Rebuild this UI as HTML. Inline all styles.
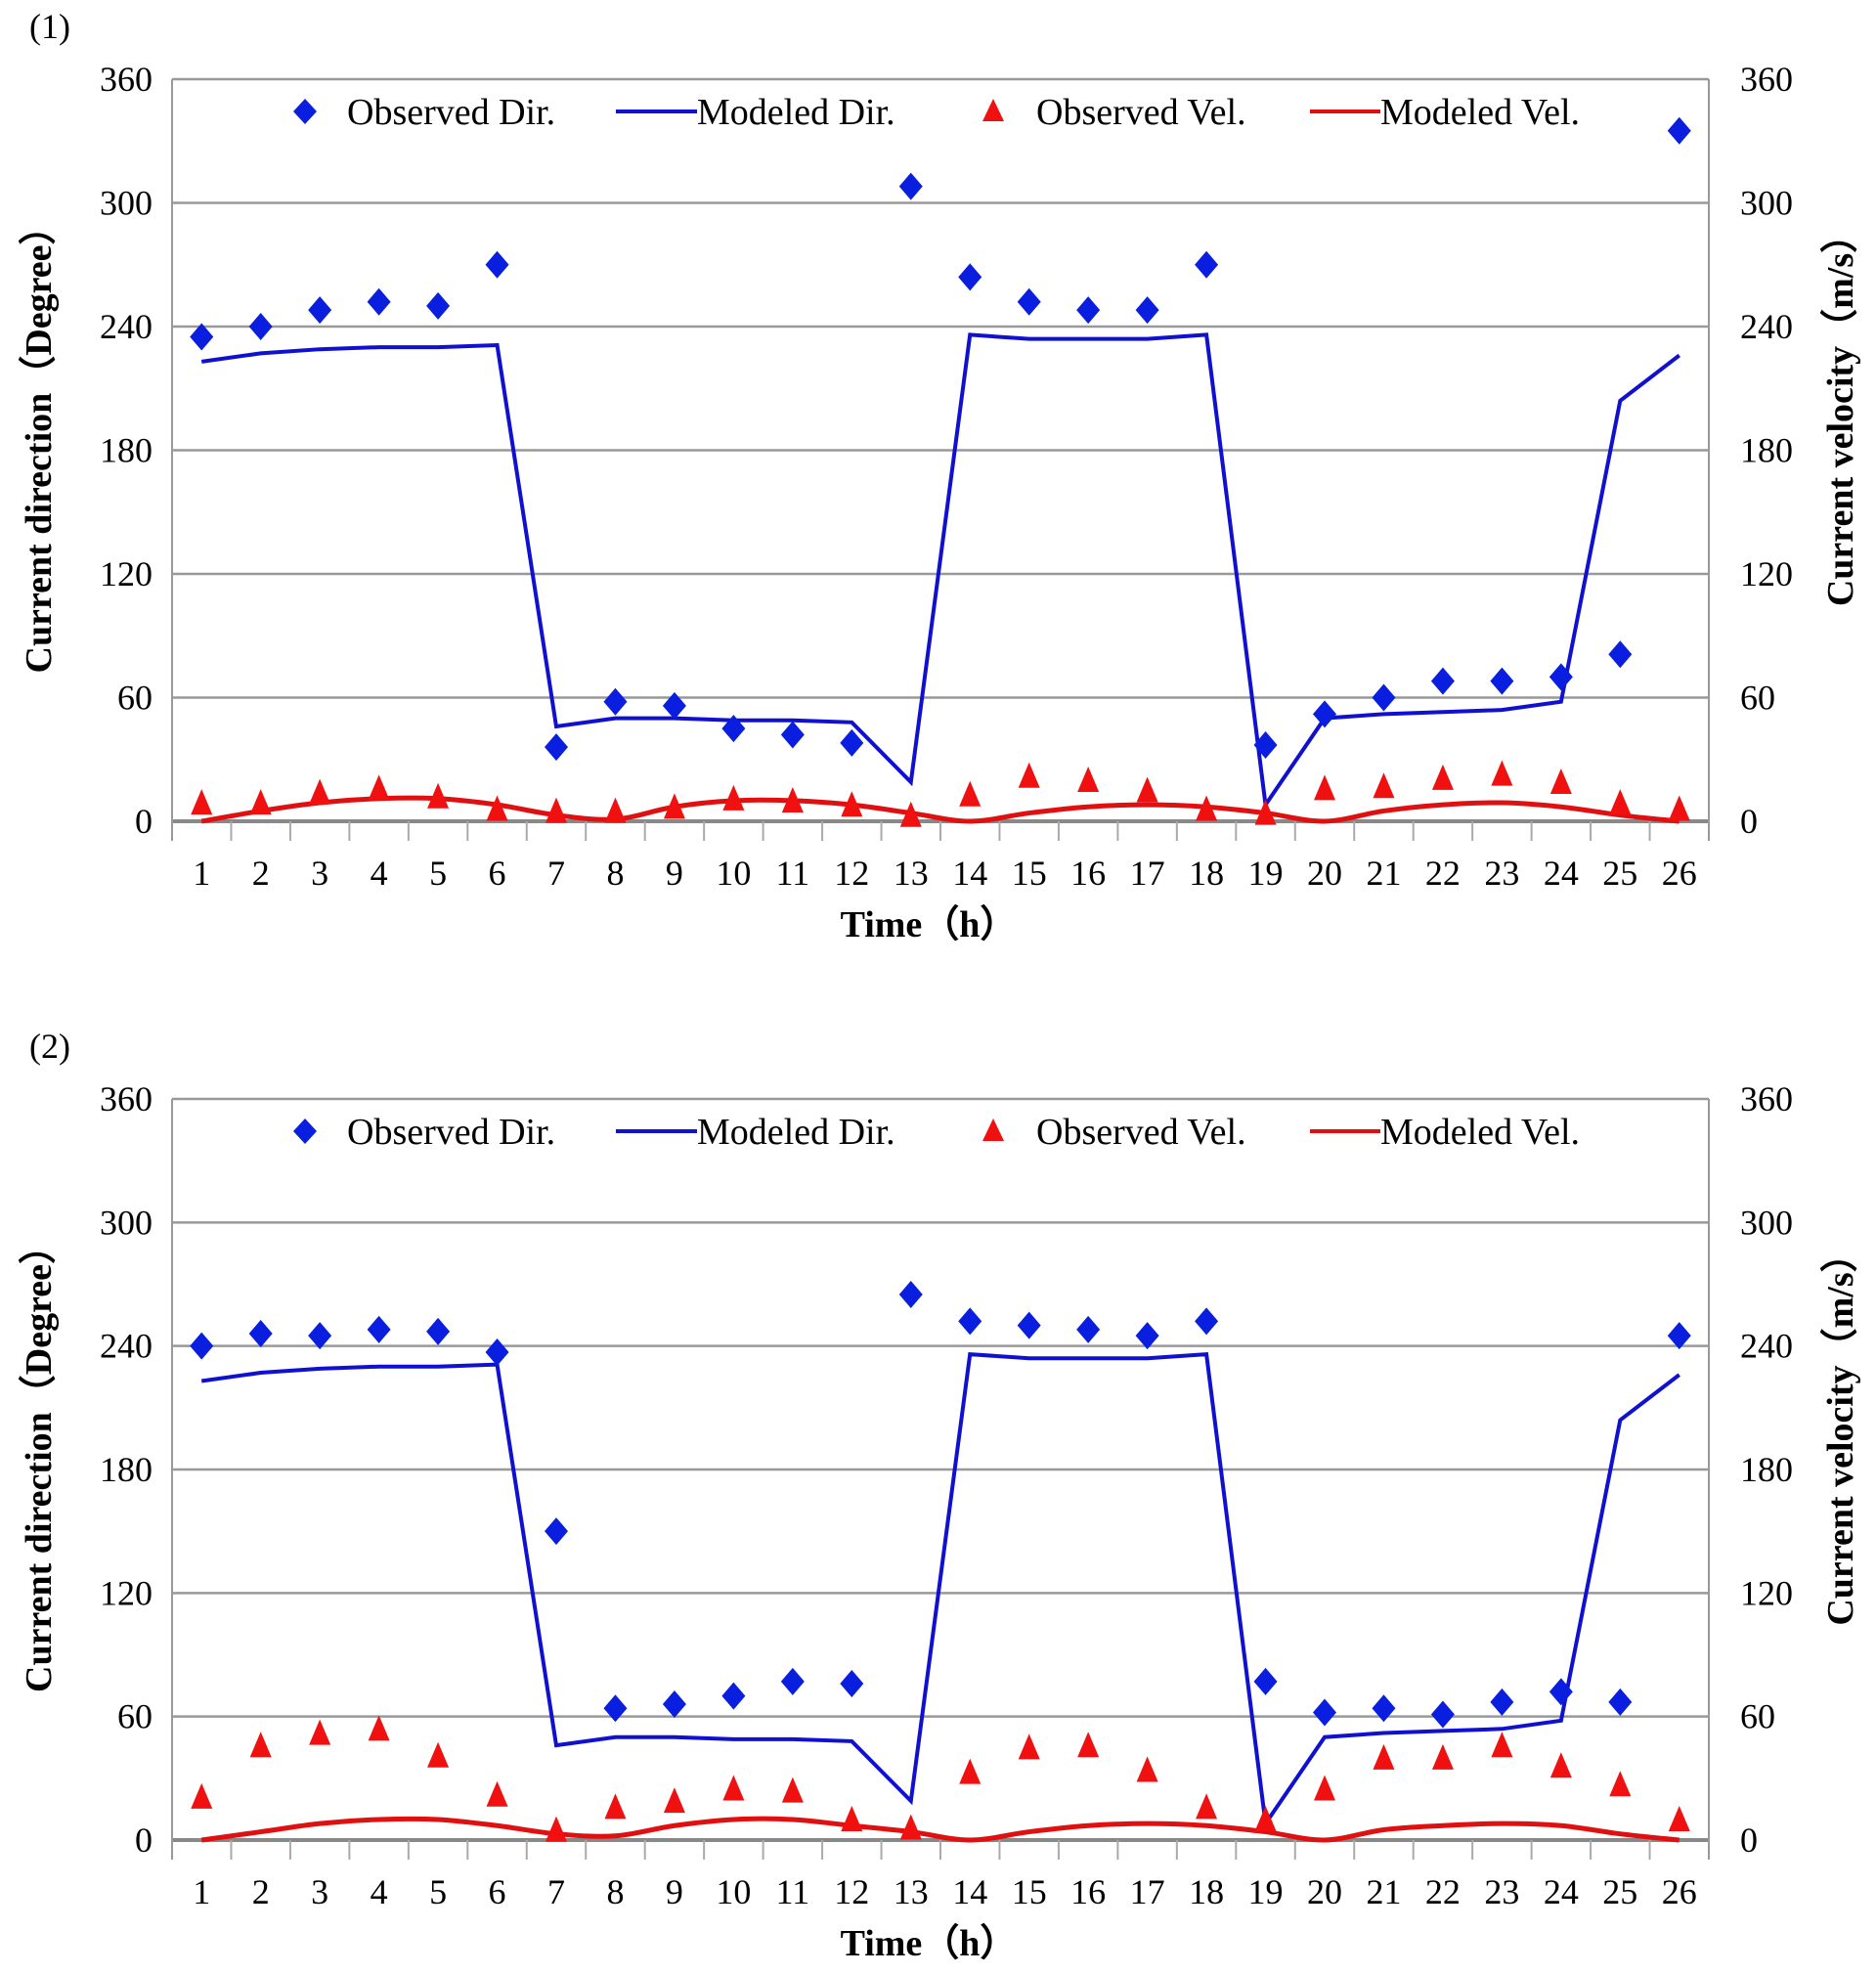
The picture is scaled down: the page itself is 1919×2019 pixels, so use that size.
<!DOCTYPE html>
<html><head><meta charset="utf-8"><style>
html,body{margin:0;padding:0;background:#fff;}
svg{display:block;font-family:"Liberation Serif",serif;}
</style></head><body>
<svg id="svg" width="1919" height="2019" viewBox="0 0 1919 2019" xmlns="http://www.w3.org/2000/svg"></svg>
<script>
const categories=[1,2,3,4,5,6,7,8,9,10,11,12,13,14,15,16,17,18,19,20,21,22,23,24,25,26];
const yTicks=[0,60,120,180,240,300,360];
const obsDir1=[235,240,248,252,250,270,36,58,56,45,42,38,308,264,252,248,248,270,37,52,60,68,68,70,81,335];
const modDir1=[223,227,229,230,230,231,46,50,50,49,49,48,19,236,234,234,234,236,8,50,52,53,54,58,204,226];
const obsVel1=[8,8,13,15,11,5,4,4,6,10,9,7,2,12,21,19,14,5,3,15,16,20,22,18,8,5];
const modVel1=[0,5,9,11,11,8,3,1,7,10,10,8,4,0,4,7,8,7,4,0,5,8,9,7,3,0];
const obsDir2=[240,246,245,248,247,237,150,64,66,70,77,76,265,252,250,248,245,252,77,62,64,61,67,72,67,245];
const modDir2=[223,227,229,230,230,231,46,50,50,49,49,48,19,236,234,234,234,236,8,50,52,53,54,58,204,226];
const obsVel2=[20,45,51,53,40,21,4,15,18,24,23,9,5,32,44,45,33,15,9,24,39,39,45,35,26,9];
const modVel2=[0,4,8,10,10,7,3,2,7,10,10,7,4,0,4,7,8,7,4,0,5,7,8,7,3,0];

const NS="http://www.w3.org/2000/svg";
const svg=document.getElementById('svg');
function mk(tag,attrs,parent){const e=document.createElementNS(NS,tag);for(const k in attrs)e.setAttribute(k,attrs[k]);(parent||svg).appendChild(e);return e;}
function smooth(pts){
  let d=`M${pts[0][0]},${pts[0][1]}`;
  for(let i=0;i<pts.length-1;i++){
    const p0=pts[i-1]||pts[i],p1=pts[i],p2=pts[i+1],p3=pts[i+2]||p2;
    const c1=[p1[0]+(p2[0]-p0[0])/6,p1[1]+(p2[1]-p0[1])/6];
    const c2=[p2[0]-(p3[0]-p1[0])/6,p2[1]-(p3[1]-p1[1])/6];
    d+=` C${c1[0]},${c1[1]} ${c2[0]},${c2[1]} ${p2[0]},${p2[1]}`;
  }
  return d;
}

function chart(g,top,bottom,od,md,ov,mv,label){
  const L=176,R=1748;
  const bw=(R-L)/categories.length;
  const x=i=>L+bw*(i+0.5);
  const y=v=>bottom-(v/360)*(bottom-top);
  const t=mk('text',{x:30,y:top-42,'font-size':36},g);t.textContent=label;
  
  yTicks.forEach(v=>{
    const ln=mk('line',{x1:L,x2:R,y1:y(v),y2:y(v),stroke:v===0?'#888':'#999','stroke-width':v===0?4:2.5},g);
    
    const a=mk('text',{x:L-20,y:y(v)+12,'font-size':36,'text-anchor':'end'},g);a.textContent=v;
    
    const b=mk('text',{x:R+32,y:y(v)+12,'font-size':36},g);b.textContent=v;
    
  });
  mk('line',{x1:L,x2:L,y1:top,y2:bottom+20,stroke:'#999','stroke-width':2},g);
  mk('line',{x1:R,x2:R,y1:top,y2:bottom+20,stroke:'#999','stroke-width':2},g);
  categories.forEach((c,i)=>{
    if(i>0){const tk=mk('line',{x1:L+bw*i,x2:L+bw*i,y1:bottom,y2:bottom+20,stroke:'#aaa','stroke-width':2},g);
      }
    const tx=mk('text',{x:x(i),y:bottom+65,'font-size':36,'text-anchor':'middle'},g);tx.textContent=c;
    
  });
  const xt=mk('text',{x:(L+R)/2-12,y:bottom+118,'font-size':38,'font-weight':'bold','text-anchor':'middle'},g);xt.textContent='Time（h）';
  
  const cy=(top+bottom)/2;
  const yl=mk('text',{x:0,y:0,'font-size':38,'font-weight':'bold','text-anchor':'middle',transform:`translate(52,${cy-10}) rotate(-90)`},g);yl.textContent='Current direction（Degree）';
  
  const yr=mk('text',{x:0,y:0,'font-size':38,'font-weight':'bold','text-anchor':'middle',transform:`translate(1895,${cy-40}) rotate(-90)`},g);yr.textContent='Current velocity（m/s）';
  
  const p1=mk('polyline',{points:md.map((v,i)=>x(i)+','+y(v)).join(' '),fill:'none',stroke:'#1010d0','stroke-width':4},g);
  
  const p2=mk('path',{d:smooth(mv.map((v,i)=>[x(i),y(v)])),fill:'none',stroke:'#e01010','stroke-width':5},g);
  
  od.forEach((v,i)=>{const px=x(i),py=y(v);
    const d=mk('polygon',{points:`${px},${py-14} ${px+12},${py} ${px},${py+14} ${px-12},${py}`,fill:'#0a1ee0'},g);
    });
  ov.forEach((v,i)=>{const px=x(i),py=y(v);
    const d=mk('polygon',{points:`${px},${py-16} ${px+11},${py+10} ${px-11},${py+10}`,fill:'#f01010'},g);
    });
  const ly=top+33;
  const lg=mk('g',{},g);
  mk('polygon',{points:`312,${ly-13} 324,${ly} 312,${ly+13} 300,${ly}`,fill:'#0a1ee0'},lg);
  let t1=mk('text',{x:355,y:ly+13,'font-size':38},lg);t1.textContent='Observed Dir.';
  mk('line',{x1:630,x2:713,y1:ly,y2:ly,stroke:'#1010d0','stroke-width':4},lg);
  let t2=mk('text',{x:713,y:ly+13,'font-size':38},lg);t2.textContent='Modeled Dir.';
  mk('polygon',{points:`1016,${ly-13} 1027,${ly+10} 1005,${ly+10}`,fill:'#f01010'},lg);
  let t3=mk('text',{x:1060,y:ly+13,'font-size':38},lg);t3.textContent='Observed Vel.';
  mk('line',{x1:1340,x2:1412,y1:ly,y2:ly,stroke:'#e01010','stroke-width':4},lg);
  let t4=mk('text',{x:1412,y:ly+13,'font-size':38},lg);t4.textContent='Modeled Vel.';
}
const g1=mk('g',{});
chart(g1,81,840,obsDir1,modDir1,obsVel1,modVel1,'(1)');
const g2=mk('g',{});
chart(g2,1124,1882,obsDir2,modDir2,obsVel2,modVel2,'(2)');
</script>
</body></html>
